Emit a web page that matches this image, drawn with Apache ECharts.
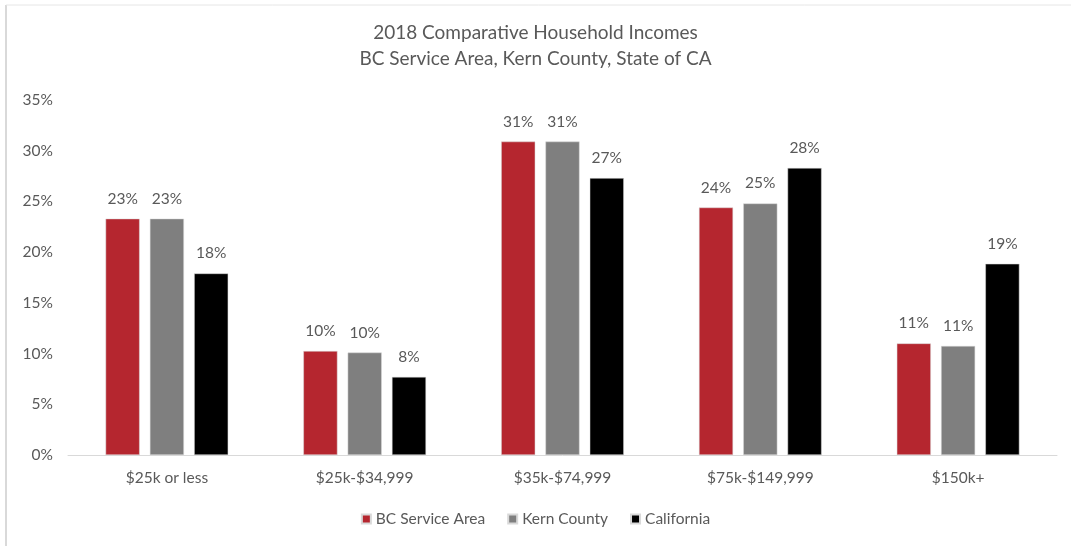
<!DOCTYPE html>
<html>
<head>
<meta charset="utf-8">
<style>
  html, body { margin: 0; padding: 0; background: #fff; }
  #chart-container { width: 1071px; height: 546px; }
</style>
<script src="https://cdn.jsdelivr.net/npm/echarts@6/dist/echarts.min.js"></script>
</head>
<body>
<div id="chart-container"></div>
<script>
var categories = ['$25k or less', '$25k-$34,999', '$35k-$74,999', '$75k-$149,999', '$150k+'];
var bcService = [23.3, 10.25, 30.9, 24.4, 11.0];
var kernCounty = [23.3, 10.1, 30.9, 24.8, 10.75];
var california = [17.9, 7.7, 27.3, 28.3, 18.85];

var dom = document.getElementById('chart-container');
var myChart = echarts.init(dom, null, { renderer: 'canvas' });

var font = 'Lato, "Liberation Sans", sans-serif';
var textColor = '#595959';

function makeSeries(name, data, color) {
  return {
    name: name,
    type: 'bar',
    data: data,
    barGap: '30%',
    barCategoryGap: '38%',
    itemStyle: { color: color, borderColor: '#d9d9d9', borderWidth: 0.5 },
    label: {
      show: true,
      position: 'top',
      distance: 12,
      color: textColor,
      fontFamily: font,
      fontSize: 15.5,
      formatter: function (p) { return Math.round(p.value) + '%'; }
    }
  };
}

var option = {
  backgroundColor: '#fff',
  animation: false,
  title: {
    text: '2018 Comparative Household Incomes\nBC Service Area, Kern County, State of CA',
    left: 'center',
    top: 15,
    textStyle: {
      color: textColor,
      fontFamily: font,
      fontSize: 19,
      fontWeight: 'normal',
      lineHeight: 26
    }
  },
  legend: {
    top: 506,
    left: 'center',
    itemWidth: 9,
    itemHeight: 9,
    itemGap: 22,
    icon: 'rect',
    textStyle: { color: textColor, fontFamily: font, fontSize: 15.5 },
    data: ['BC Service Area', 'Kern County', 'California']
  },
  grid: { left: 68, right: 14, top: 100, bottom: 91 },
  xAxis: {
    type: 'category',
    data: categories,
    axisLine: { lineStyle: { color: '#d9d9d9', width: 1 } },
    axisTick: { show: false },
    axisLabel: { color: textColor, fontFamily: font, fontSize: 15.5, margin: 15 }
  },
  yAxis: {
    type: 'value',
    min: 0,
    max: 35,
    interval: 5,
    axisLine: { show: false },
    axisTick: { show: false },
    splitLine: { show: false },
    axisLabel: {
      color: textColor,
      fontFamily: font,
      fontSize: 15.5,
      margin: 15,
      formatter: '{value}%'
    }
  },
  graphic: [
    { type: 'line', shape: { x1: 6, y1: 5, x2: 6, y2: 546 }, style: { stroke: '#d9d9d9', lineWidth: 2 } },
    { type: 'line', shape: { x1: 6, y1: 5, x2: 1071, y2: 5 }, style: { stroke: '#e6e6e6', lineWidth: 1 } }
  ],
  series: [
    makeSeries('BC Service Area', bcService, '#b5262f'),
    makeSeries('Kern County', kernCounty, '#7f7f7f'),
    makeSeries('California', california, '#000000')
  ]
};

myChart.setOption(option);
window.addEventListener('resize', myChart.resize);
</script>
</body>
</html>
